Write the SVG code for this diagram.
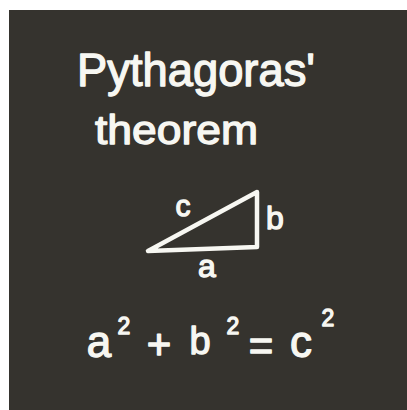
<svg xmlns="http://www.w3.org/2000/svg" width="407" height="410" viewBox="0 0 407 410">
  <style>
    .chalk { fill: #f7f7f2; stroke: #f7f7f2; stroke-width: 1.3; stroke-linejoin: round; font-family: "Liberation Sans", Arial, sans-serif; }
    .line { fill: none; stroke: #f7f7f2; stroke-width: 4.5; stroke-linejoin: round; stroke-linecap: round; }
  </style>
  <rect x="0" y="0" width="407" height="410" fill="#ffffff"/>
  <rect x="9" y="10" width="398" height="400" fill="#35332e"/>
  <g id="title">
    <text class="chalk" x="77" y="86" font-size="46" textLength="238" lengthAdjust="spacingAndGlyphs">Pythagoras'</text>
    <text class="chalk" x="95" y="144" font-size="40" textLength="163" lengthAdjust="spacingAndGlyphs">theorem</text>
  </g>
  <g id="triangle">
    <polygon class="line" points="148,251 257,247 257,192"/>
    <text class="chalk" x="183" y="216" font-size="30" text-anchor="middle">c</text>
    <text class="chalk" x="275" y="229" font-size="32" text-anchor="middle">b</text>
    <text class="chalk" x="207" y="277" font-size="32" text-anchor="middle">a</text>
  </g>
  <g id="equation">
    <text class="chalk" x="99" y="357" font-size="44" text-anchor="middle">a</text>
    <text class="chalk" x="124" y="334" font-size="23" text-anchor="middle">2</text>
    <text class="chalk" x="159" y="359" font-size="42" text-anchor="middle">+</text>
    <text class="chalk" x="200" y="354" font-size="38" text-anchor="middle">b</text>
    <text class="chalk" x="233" y="334" font-size="23" text-anchor="middle">2</text>
    <text class="chalk" x="261" y="360" font-size="42" text-anchor="middle">=</text>
    <text class="chalk" x="301" y="357" font-size="44" text-anchor="middle">c</text>
    <text class="chalk" x="328" y="326" font-size="23" text-anchor="middle">2</text>
  </g>
</svg>
